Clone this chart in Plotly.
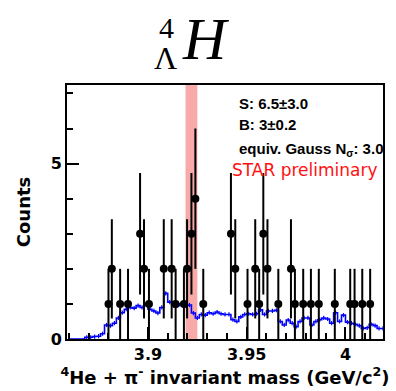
import numpy as np
import plotly.graph_objects as go

# Candidate counts (black points) with Poisson errors
cand_mass = [3.8800, 3.8817, 3.8859, 3.8899, 3.8960, 3.8980, 3.9005, 3.9080,
             3.9120, 3.9140, 3.9182, 3.9198, 3.9220, 3.9240, 3.9280, 3.9420,
             3.9442, 3.9504, 3.9543, 3.9563, 3.9584, 3.9605, 3.9660, 3.9724,
             3.9744, 3.9786, 3.9825, 3.9865, 3.9946, 4.0024, 4.0046, 4.0085,
             4.0125]
cand_counts = [1, 2, 1, 1, 3, 2, 1, 2, 2, 1, 1, 2, 3, 4, 1, 3, 2, 1, 2, 1, 3, 2,
               1, 2, 1, 1, 1, 1, 1, 1, 1, 1, 1]

# Normalised combinatorial background histogram (blue)
bkg_start = 3.860
bkg_width = 0.002
bkg_counts = [0, 0, 0, 0, 0.05, 0.05, 0.07, 0.08, 0.15, 0.40,
              0.38, 0.45, 0.60, 0.75, 0.85, 0.90, 0.88, 0.95, 0.90, 0.98,
              0.85, 0.80, 0.74, 0.90, 1.30, 1.05, 0.95, 0.95, 1.00, 0.95,
              0.97, 0.74, 0.60, 0.70, 0.68, 0.75, 0.72, 0.77, 0.72, 0.70,
              0.70, 0.55, 0.50, 0.63, 0.70, 0.72, 0.70, 0.72, 0.83, 0.70,
              0.80, 0.80, 0.82, 0.50, 0.40, 0.54, 0.45, 0.35, 0.50, 0.60,
              0.60, 0.40, 0.50, 0.55, 0.60, 0.57, 0.45, 0.75, 0.50, 0.68,
              0.48, 0.45, 0.42, 0.38, 0.30, 0.32, 0.42, 0.38, 0.30, 0.30]
bkg_err = [0.0 if v == 0 else 0.06 for v in bkg_counts]

# Signal window
window_lo, window_hi = 3.919, 3.925

x_range = [3.859, 4.019]
y_range = [0, 7.24]

n_bins = len(bkg_counts)
edges = bkg_start + bkg_width * np.arange(n_bins + 1)
centers = edges[:-1] + bkg_width / 2
step_y = list(bkg_counts) + [bkg_counts[-1]]

fig = go.Figure()

fig.add_shape(type="rect", xref="x", yref="paper", x0=window_lo, x1=window_hi,
              y0=0, y1=1, fillcolor="#f8a9a9", line_width=0, layer="below")

fig.add_trace(go.Scatter(x=edges, y=step_y, mode="lines", line_shape="hv",
                         line=dict(color="#0000ff", width=1.6),
                         hoverinfo="skip", showlegend=False))
fig.add_trace(go.Scatter(x=centers, y=bkg_counts, mode="markers",
                         marker=dict(size=1, color="#0000ff"),
                         error_y=dict(type="data", array=bkg_err, color="#0000ff",
                                      thickness=1.2, width=0),
                         showlegend=False))

fig.add_trace(go.Scatter(x=cand_mass, y=cand_counts, mode="markers",
                         marker=dict(size=8, color="black"),
                         error_y=dict(type="data", array=np.sqrt(cand_counts),
                                      color="black", thickness=2, width=0),
                         showlegend=False))

tick_font = dict(family="DejaVu Sans", size=16, color="black", weight="bold")

fig.update_xaxes(range=x_range, tickmode="linear", tick0=3.9, dtick=0.05,
                 ticks="inside", ticklen=12, tickwidth=1.5, tickcolor="black",
                 minor=dict(tick0=3.9, dtick=0.01, ticks="inside", ticklen=6,
                            tickwidth=1.5, tickcolor="black", showgrid=False),
                 showline=True, linewidth=2, linecolor="black", mirror=True,
                 showgrid=False, zeroline=False, tickfont=tick_font,
                 title=dict(text="<sup>4</sup>He + π<sup>-</sup> invariant mass (GeV/c<sup>2</sup>)",
                            font=dict(family="DejaVu Sans", size=18, color="black",
                                      weight="bold"),
                            standoff=2))
fig.update_yaxes(range=y_range, tickmode="linear", tick0=0, dtick=5,
                 ticks="inside", ticklen=12, tickwidth=1.5, tickcolor="black",
                 minor=dict(tick0=0, dtick=1, ticks="inside", ticklen=6,
                            tickwidth=1.5, tickcolor="black", showgrid=False),
                 showline=True, linewidth=2, linecolor="black", mirror=True,
                 showgrid=False, zeroline=False, tickfont=tick_font,
                 title=dict(text="Counts",
                            font=dict(family="DejaVu Sans", size=18, color="black",
                                      weight="bold"),
                            standoff=15))

info_font = dict(family="Liberation Sans", size=15, color="black", weight="bold")
annotations = [
    dict(text="S: 6.5±3.0", x=0.538, y=0.929, font=info_font),
    dict(text="B: 3±0.2", x=0.538, y=0.843, font=info_font),
    dict(text="equiv. Gauss N<sub>σ</sub>: 3.0", x=0.538, y=0.748, font=info_font),
    dict(text="STAR preliminary", x=0.516, y=0.665,
         font=dict(family="DejaVu Sans", size=17, color="#ff1010")),
]
for a in annotations:
    fig.add_annotation(xref="paper", yref="paper", xanchor="left", yanchor="middle",
                       showarrow=False, **a)

serif = "Liberation Serif"
fig.add_annotation(text="<i>H</i>", xref="paper", yref="paper", x=0.44, y=1.18,
                   xanchor="center", yanchor="middle", showarrow=False,
                   font=dict(family=serif, size=60, color="black"))
fig.add_annotation(text="4", xref="paper", yref="paper", x=0.316, y=1.225,
                   xanchor="center", yanchor="middle", showarrow=False,
                   font=dict(family=serif, size=30, color="black"))
fig.add_annotation(text="Λ", xref="paper", yref="paper", x=0.313, y=1.105,
                   xanchor="center", yanchor="middle", showarrow=False,
                   font=dict(family=serif, size=32, color="black"))

fig.update_layout(width=396, height=391,
                  margin=dict(l=67, r=11, t=85, b=52),
                  plot_bgcolor="white", paper_bgcolor="white",
                  showlegend=False)

fig.write_html("out.html")
